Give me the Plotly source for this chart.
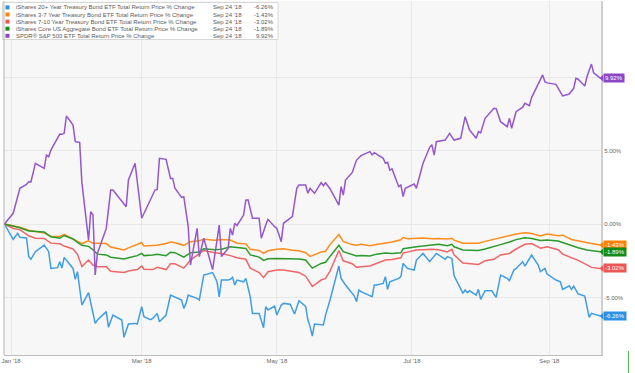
import plotly.graph_objects as go

def full(md):
    return ("2017-" if md.startswith("12") else "2018-") + md

# ---------------- data ----------------
bond_dates = ["12-29", "01-02", "01-05", "01-09", "01-12", "01-16", "01-19", "01-23", "01-25", "01-29", "01-31",
              "02-02", "02-05", "02-07", "02-09", "02-13", "02-15", "02-21", "02-23", "02-27",
              "03-01", "03-02", "03-06", "03-08", "03-12", "03-14", "03-16", "03-20", "03-23", "03-27", "03-29",
              "04-03", "04-06", "04-10", "04-13", "04-17", "04-19", "04-23", "04-25", "04-27",
              "05-01", "05-04", "05-08", "05-11", "05-14", "05-16", "05-17", "05-21", "05-23", "05-25", "05-29", "05-31",
              "06-04", "06-06", "06-08", "06-12", "06-15", "06-19", "06-22", "06-26", "06-27", "06-29",
              "07-03", "07-06", "07-10", "07-13", "07-17", "07-19", "07-20", "07-24", "07-27", "07-31",
              "08-03", "08-07", "08-10", "08-14", "08-17", "08-21", "08-24", "08-28", "08-31",
              "09-05", "09-07", "09-11", "09-14", "09-18", "09-20", "09-24"]

iei_3_7 = [0, -0.12, -0.22, -0.42, -0.5, -0.62, -0.83, -0.85, -0.7, -1.0, -1.18,
           -1.33, -1.15, -1.3, -1.3, -1.33, -1.57, -1.77, -1.62, -1.4,
           -1.27, -1.5, -1.45, -1.45, -1.32, -1.22, -1.28, -1.45, -1.2, -1.14, -1.04,
           -1.1, -1.06, -1.09, -1.31, -1.35, -1.72, -1.8, -2.0, -1.82,
           -1.72, -1.68, -1.78, -1.82, -1.95, -2.2, -2.15, -1.9, -1.85, -1.4, -0.72, -1.2,
           -1.4, -1.45, -1.38, -1.48, -1.4, -1.31, -1.22, -1.07, -0.92, -1.0,
           -0.97, -0.95, -1.0, -0.98, -1.02, -0.97, -1.1, -1.3, -1.3, -1.31,
           -1.18, -1.03, -0.9, -0.77, -0.68, -0.6, -0.65, -0.82, -0.68,
           -0.8, -0.76, -1.05, -1.15, -1.27, -1.32, -1.43]

agg_core = [0, -0.12, -0.25, -0.48, -0.52, -0.55, -0.87, -0.97, -0.78, -1.02, -1.25,
            -1.45, -1.52, -1.75, -2.05, -2.1, -2.26, -2.38, -2.3, -2.15,
            -2.0, -2.15, -2.11, -2.05, -2.15, -1.92, -1.95, -2.25, -1.95, -1.9, -1.68,
            -1.75, -1.72, -1.55, -1.6, -1.66, -2.1, -2.25, -2.48, -2.36,
            -2.34, -2.34, -2.35, -2.38, -2.45, -2.79, -3.0, -2.68, -2.6, -2.2, -1.45, -1.88,
            -2.06, -2.17, -2.15, -2.18, -2.05, -1.97, -2.0, -1.95, -1.68, -1.62,
            -1.54, -1.5, -1.45, -1.38, -1.48, -1.38, -1.55, -1.77, -1.78, -1.8,
            -1.7, -1.55, -1.4, -1.22, -1.06, -0.93, -0.98, -1.12, -1.09,
            -1.15, -1.25, -1.48, -1.62, -1.76, -1.8, -1.89]

ief_7_10 = [0, -0.3, -0.38, -0.8, -0.97, -0.98, -1.3, -1.35, -1.5, -1.7, -2.06,
            -2.9, -2.45, -2.79, -2.9, -2.9, -3.22, -3.3, -3.2, -3.1,
            -2.86, -3.08, -3.1, -2.95, -3.1, -2.7, -2.7, -3.0, -2.45, -2.05, -1.8,
            -1.95, -2.0, -2.15, -2.3, -2.4, -3.0, -3.3, -3.65, -3.25,
            -3.13, -3.13, -3.2, -3.3, -3.55, -4.0, -4.25, -3.81, -3.7, -3.2, -1.8, -2.5,
            -2.7, -2.95, -2.9, -2.86, -2.7, -2.45, -2.42, -2.3, -1.98, -1.9,
            -1.77, -1.75, -1.72, -1.75, -1.9, -1.72, -2.1, -2.65, -2.7, -2.75,
            -2.5, -2.4, -2.1, -2.0, -1.7, -1.38, -1.33, -1.65, -1.55,
            -1.75, -2.05, -2.3, -2.47, -2.78, -2.95, -3.02]

tlt_dates = ["12-29", "01-02", "01-04", "01-05", "01-08", "01-09", "01-10", "01-12", "01-16", "01-18", "01-19",
             "01-22", "01-23", "01-24", "01-25", "01-29", "01-30", "01-31",
             "02-02", "02-05", "02-08", "02-09", "02-13", "02-14", "02-16", "02-20", "02-21", "02-23", "02-26", "02-27",
             "03-01", "03-02", "03-05", "03-06", "03-08", "03-09", "03-12", "03-14", "03-19", "03-20", "03-21",
             "03-22", "03-23", "03-26", "03-27", "03-28", "03-29",
             "04-02", "04-03", "04-04", "04-05", "04-06", "04-09", "04-10", "04-11", "04-12", "04-13", "04-16",
             "04-17", "04-19", "04-20", "04-23", "04-25", "04-26", "04-27", "04-30",
             "05-01", "05-03", "05-04", "05-07", "05-09", "05-11", "05-14", "05-15", "05-16", "05-17", "05-18",
             "05-22", "05-23", "05-24", "05-25", "05-29", "05-30",
             "06-01", "06-04", "06-05", "06-06", "06-07", "06-08", "06-11", "06-13", "06-14", "06-15", "06-18",
             "06-19", "06-20", "06-21", "06-25", "06-26", "06-27", "06-29",
             "07-02", "07-03", "07-06", "07-09", "07-12", "07-16", "07-17", "07-19", "07-20", "07-23", "07-24",
             "07-25", "07-26", "07-27", "07-30", "07-31",
             "08-01", "08-03", "08-06", "08-08", "08-10", "08-13", "08-14", "08-16", "08-17", "08-20", "08-21",
             "08-24", "08-27", "08-28", "08-30", "08-31",
             "09-04", "09-06", "09-07", "09-10", "09-11", "09-12", "09-14", "09-17", "09-19", "09-20", "09-24"]

tlt_20 = [0, -1.04, -0.63, -0.9, -0.95, -2.22, -2.4, -1.88, -1.43, -1.88, -3.02,
          -2.97, -2.56, -3.0, -2.27, -3.02, -3.76, -3.24,
          -5.51, -4.67, -6.76, -6.53, -5.96, -7.03, -6.19, -6.53, -7.71, -6.8, -6.76, -6.8,
          -5.62, -6.3, -6.5, -6.42, -6.08, -6.65, -6.19, -4.83, -5.17, -5.74, -5.4,
          -4.83, -4.9, -5.06, -5.17, -4.38, -3.47,
          -3.3, -3.6, -3.93, -4.95, -3.81, -3.81, -3.76, -3.63, -4.15, -3.81, -3.93,
          -3.7, -4.95, -6.08, -6.08, -7.05, -5.62, -5.85, -5.58,
          -6.19, -5.51, -5.4, -5.45, -6.12, -5.22, -5.6, -6.5, -6.98, -7.62, -6.8,
          -6.87, -6.2, -5.6, -5.17, -2.86, -3.7,
          -4.15, -4.71, -4.9, -5.28, -4.49, -4.6, -4.83, -4.95, -4.15, -4.15, -4.04,
          -3.58, -4.44, -3.93, -3.7, -3.58, -2.68, -3.02,
          -3.13, -2.45, -2.0, -2.56, -2.0, -2.4, -2.22, -2.34, -3.5, -4.44, -4.72,
          -4.49, -4.67, -4.54, -4.83, -4.44,
          -5.12, -4.54, -4.54, -4.99, -3.47, -3.7, -3.85, -3.13, -3.02, -2.56, -2.86,
          -2.11, -2.8, -3.24, -3.02, -3.4,
          -3.81, -3.93, -4.44, -4.2, -4.44, -4.22, -4.76, -4.9, -6.35, -6.08, -6.26]

spy_dates = ["12-29", "01-02", "01-05", "01-08", "01-09", "01-10", "01-12", "01-16", "01-17", "01-18", "01-19",
             "01-22", "01-23", "01-24", "01-25", "01-26", "01-29", "01-30", "01-31",
             "02-01", "02-02", "02-05", "02-06", "02-07", "02-08", "02-09", "02-13", "02-15", "02-16", "02-20",
             "02-22", "02-23", "02-26",
             "03-01", "03-05", "03-06", "03-07", "03-08", "03-09", "03-12", "03-13", "03-14", "03-15", "03-16",
             "03-19", "03-20", "03-22", "03-23", "03-26", "03-27", "03-29",
             "04-02", "04-04", "04-05", "04-06", "04-09", "04-10", "04-11", "04-12", "04-13", "04-16", "04-17",
             "04-18", "04-19", "04-20", "04-23", "04-24", "04-26", "04-27", "04-30",
             "05-01", "05-02", "05-03", "05-04", "05-07", "05-08", "05-10", "05-11", "05-14", "05-15", "05-16",
             "05-18", "05-21", "05-22", "05-23", "05-25", "05-29", "05-30", "05-31",
             "06-01", "06-04", "06-06", "06-08", "06-12", "06-13", "06-14", "06-18", "06-19", "06-20", "06-21",
             "06-22", "06-25", "06-26", "06-27", "06-28",
             "07-02", "07-03", "07-06", "07-09", "07-10", "07-11", "07-12", "07-16", "07-18", "07-20", "07-23",
             "07-25", "07-27", "07-30", "07-31",
             "08-01", "08-03", "08-07", "08-08", "08-10", "08-13", "08-14", "08-15", "08-17", "08-20", "08-21",
             "08-23", "08-24", "08-27", "08-29", "08-30", "08-31",
             "09-04", "09-07", "09-10", "09-12", "09-13", "09-14", "09-17", "09-18", "09-20", "09-21", "09-24"]

spy_500 = [0, 0.73, 2.43, 2.7, 2.88, 2.86, 4.13, 3.79, 4.69, 4.58, 5.03,
           5.8, 6.12, 6.1, 6.17, 7.35, 6.73, 5.6, 5.6,
           5.55, 2.8, -1.09, 0.84, 0.61, -3.47, -2.0, -0.3, 2.31, 2.31, 1.52,
           1.18, 3.0, 4.13,
           0.39, 1.75, 2.09, 2.31, 2.35, 4.47, 4.4, 3.67, 3.1, 3.1, 2.43,
           1.81, 1.86, -0.18, -2.79, -0.3, -2.22, -0.97,
           -3.1, -1.09, -0.07, -2.22, -1.66, -0.3, -0.75, 0.05, -0.1, 0.61, 1.63,
           1.65, 1.1, 0.39, 0.39, -0.97, -0.07, 0.32, -0.18,
           -0.3, -0.75, -1.2, 0.05, 0.39, 0.5, 2.43, 2.65, 2.65, 2.09, 2.43,
           2.09, 2.81, 2.6, 2.81, 2.4, 1.29, 2.54, 1.97,
           2.99, 3.49, 4.35, 4.65, 4.92, 4.7, 4.85, 4.47, 4.13, 4.2, 3.67,
           3.75, 2.54, 2.65, 1.86, 2.43,
           2.72, 2.43, 4.13, 5.22, 5.4, 4.69, 5.6, 5.71, 6.17, 5.71, 5.83,
           7.3, 6.39, 5.83, 6.28,
           6.2, 7.19, 7.87, 7.85, 6.96, 6.62, 7.19, 6.51, 7.64, 7.95, 8.21,
           8.05, 8.6, 9.57, 10.14, 9.68, 9.6,
           9.5, 8.71, 8.84, 9.23, 9.91, 9.85, 9.39, 10.02, 10.88, 10.29, 9.92]

series_names = ["iShares 20+ Year Treasury Bond ETF Total Return Price % Change",
                "iShares 3-7 Year Treasury Bond ETF Total Return Price % Change",
                "iShares 7-10 Year Treasury Bond ETF Total Return Price % Change",
                "iShares Core US Aggregate Bond ETF Total Return Price % Change",
                "SPDR\u00ae S&P 500 ETF Total Return Price % Change"]
legend_date = "Sep 24 '18"

x_tick_vals = ["2018-01-01", "2018-03-01", "2018-05-01", "2018-07-01", "2018-09-01"]
x_tick_text = ["Jan '18", "Mar '18", "May '18", "Jul '18", "Sep '18"]
y_tick_vals = [-5, 0, 5, 10]
y_tick_text = ["-5.00%", "0.00%", "5.00%", "10.00%"]

# ---------------- styling ----------------
line_colors = ["#3f9de6", "#ff8c1a", "#ef6666", "#2a9a2a", "#9656cd"]
tag_colors = ["#2e8fe3", "#ff8205", "#ec5656", "#168a18", "#8b46c6"]

series = [
    ([full(d) for d in tlt_dates], tlt_20),
    ([full(d) for d in bond_dates], iei_3_7),
    ([full(d) for d in bond_dates], ief_7_10),
    ([full(d) for d in bond_dates], agg_core),
    ([full(d) for d in spy_dates], spy_500),
]

fig = go.Figure()
for (xs, ys), name, col in zip(series, series_names, line_colors):
    fig.add_trace(go.Scatter(x=xs, y=ys, mode="lines", name=name,
                             line=dict(color=col, width=1.5), hoverinfo="skip"))

# plot geometry in pixels (for decorations)
W, H = 635, 373
ML, MR, MT, MB = 4, 34, 1, 18
PW, PH = W - ML - MR, H - MT - MB

def px_x(p):
    return (p - ML) / PW

def px_y(p):
    return (H - MB - p) / PH

shapes = []
annotations = []

# legend box
shapes.append(dict(type="rect", xref="paper", yref="paper", layer="above",
                   x0=px_x(2.5), x1=px_x(278), y0=px_y(39.5), y1=px_y(2.5),
                   fillcolor="white", line=dict(color="#d6d6d6", width=1)))
row_y = [7.4, 14.5, 21.6, 28.7, 35.8]
for i, (name, col, (xs, ys)) in enumerate(zip(series_names, tag_colors, series)):
    yc = row_y[i]
    shapes.append(dict(type="rect", xref="paper", yref="paper", layer="above",
                       x0=px_x(5.5), x1=px_x(9.5), y0=px_y(yc + 2), y1=px_y(yc - 2),
                       fillcolor=col, line=dict(width=0)))
    annotations.append(dict(xref="paper", yref="paper", x=px_x(13.5), y=px_y(yc),
                            xanchor="left", yanchor="middle", text=name, showarrow=False,
                            font=dict(size=6, color="#5a5a5a")))
    annotations.append(dict(xref="paper", yref="paper", x=px_x(211), y=px_y(yc),
                            xanchor="left", yanchor="middle", text=legend_date, showarrow=False,
                            font=dict(size=6, color="#5a5a5a")))
    annotations.append(dict(xref="paper", yref="paper", x=px_x(276), y=px_y(yc),
                            xanchor="right", yanchor="middle", text=f"{ys[-1]:.2f}%", showarrow=False,
                            font=dict(size=6, color="#5a5a5a")))

# end-of-line value tags
unit_px = PH / (15.17 - (-8.91))
for col, (xs, ys) in zip(tag_colors, series):
    v = ys[-1]
    dy = 3.4 / unit_px
    shapes.append(dict(type="path", xref="paper", yref="y", layer="above",
                       path=f"M {px_x(599.5)},{v} L {px_x(603.2)},{v + dy} L {px_x(603.2)},{v - dy} Z",
                       fillcolor=col, line=dict(width=0)))
    annotations.append(dict(xref="paper", yref="y", x=px_x(602.8), y=v,
                            xanchor="left", yanchor="middle", text=f"{v:.2f}%", showarrow=False,
                            bgcolor=col, borderpad=1,
                            font=dict(size=6, color="white")))

# left border of plot and small green marker at bottom right
shapes.append(dict(type="line", xref="paper", yref="paper", x0=0, x1=0, y0=0, y1=1,
                   line=dict(color="#b5b5b5", width=1)))
shapes.append(dict(type="line", xref="paper", yref="paper", x0=px_x(628.5), x1=px_x(628.5),
                   y0=px_y(373), y1=px_y(351), line=dict(color="#58b858", width=1)))

fig.update_layout(
    width=W, height=H,
    margin=dict(l=ML, r=MR, t=MT, b=MB),
    paper_bgcolor="white",
    plot_bgcolor="#f7f7f7",
    showlegend=False,
    font=dict(family="Liberation Sans, Arial, sans-serif", size=6, color="#666"),
    shapes=shapes,
    annotations=annotations,
    xaxis=dict(type="date", range=["2017-12-28 20:00", "2018-09-24 08:00"],
               tickvals=x_tick_vals, ticktext=x_tick_text,
               showgrid=True, gridcolor="#e8e8e8", gridwidth=1,
               showline=True, linecolor="#bdbdbd", linewidth=1,
               ticks="", zeroline=False, tickfont=dict(size=6, color="#666")),
    yaxis=dict(side="right", range=[-8.91, 15.17],
               tickvals=y_tick_vals, ticktext=y_tick_text,
               showgrid=True, gridcolor="#e8e8e8", gridwidth=1,
               showline=True, linecolor="#cfcfcf", linewidth=2,
               ticks="", zeroline=False, tickfont=dict(size=6, color="#666")),
)

fig.write_html("out.html", config={"displayModeBar": False},
               post_script="document.body.style.margin='0';document.body.style.overflow='hidden';")
